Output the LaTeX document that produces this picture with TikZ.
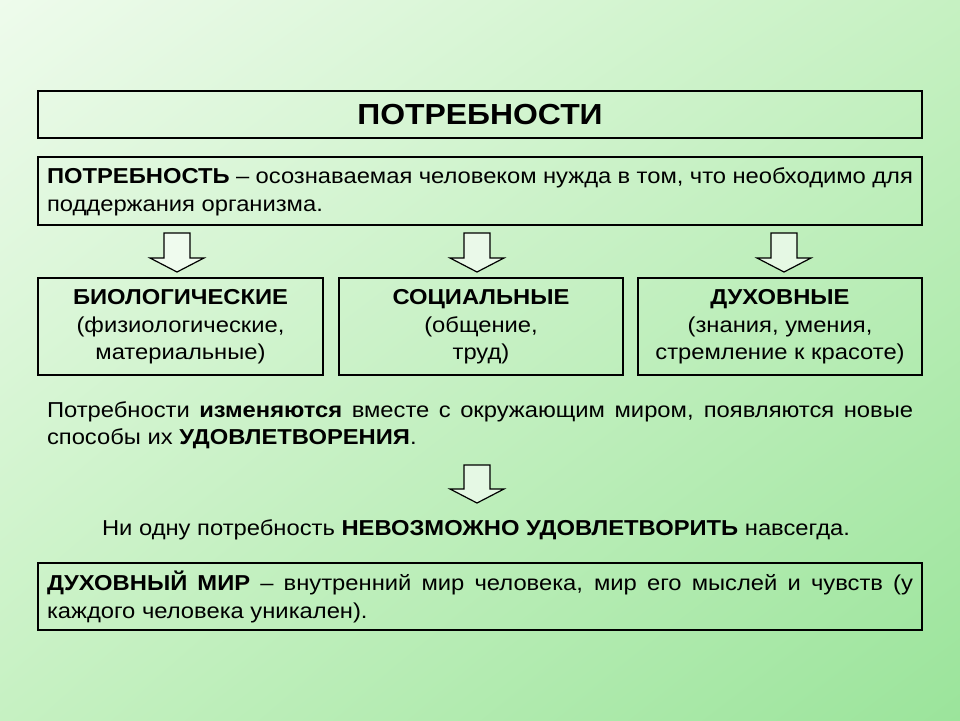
\documentclass[tikz,border=0pt]{standalone}
\usepackage{fontspec}
\setmainfont[FakeStretch=1.1]{Liberation Sans}
\usetikzlibrary{shadings}
\begin{document}
\begin{tikzpicture}[x=1pt,y=-1pt,
  box/.style={draw=black,line width=1.6pt,inner sep=0pt},
  txt/.style={font=\fontsize{21.6}{27.5}\selectfont},
  para/.style={txt,align=justify,inner sep=0pt},
  harrow/.style={draw=black,line width=1.2pt,fill=white,fill opacity=0.6,draw opacity=1}]
\definecolor{tl}{RGB}{238,251,236}
\definecolor{br}{RGB}{155,228,155}
\definecolor{mid}{RGB}{198,241,194}
\shade[upper left=tl,lower right=br,upper right=mid,lower left=mid] (0,0) rectangle (960,720);
\useasboundingbox (0,0) rectangle (960,720);
\draw[box] (38,91) rectangle (922,138);
\node[font=\fontsize{29}{30}\selectfont\bfseries] (title) at (480,115) {ПОТРЕБНОСТИ};
\draw[box] (38,157) rectangle (922,225);
\node[para,text width=866pt] (def) at (480,192) {\textbf{ПОТРЕБНОСТЬ} – осознаваемая человеком нужда в том, что необходимо для поддержания организма.};
\foreach \cx/\nm in {177/a1,477/a2,784/a3}{
  \draw[harrow] (\cx-13,233) -- (\cx+13,233) -- (\cx+13,258) -- (\cx+27,258) -- (\cx,272) -- (\cx-27,258) -- (\cx-13,258) -- cycle;
}
\draw[box] (38,278) rectangle (323,375);
\draw[box] (339,278) rectangle (623,375);
\draw[box] (638,278) rectangle (922,375);
\node[txt,align=center] (bio) at (180.5,327) {\textbf{БИОЛОГИЧЕСКИЕ}\\(физиологические,\\материальные)};
\node[txt,align=center] (soc) at (481,327) {\textbf{СОЦИАЛЬНЫЕ}\\(общение,\\труд)};
\node[txt,align=center] (duh) at (780,327) {\textbf{ДУХОВНЫЕ}\\(знания, умения,\\стремление к красоте)};
\node[para,text width=866pt] (chg) at (480,425) {Потребности \textbf{изменяются} вместе с окружающим миром, появляются новые способы их \textbf{УДОВЛЕТВОРЕНИЯ}.};
\draw[harrow] (464,465) -- (490,465) -- (490,489) -- (504,489) -- (477,503) -- (450,489) -- (464,489) -- cycle;
\node[txt] (imp) at (476,530) {Ни одну потребность \textbf{НЕВОЗМОЖНО УДОВЛЕТВОРИТЬ} навсегда.};
\draw[box] (38,563) rectangle (922,630);
\node[para,text width=866pt] (mir) at (480,597) {\textbf{ДУХОВНЫЙ МИР} – внутренний мир человека, мир его мыслей и чувств (у каждого человека уникален).};
\end{tikzpicture}
\end{document}
